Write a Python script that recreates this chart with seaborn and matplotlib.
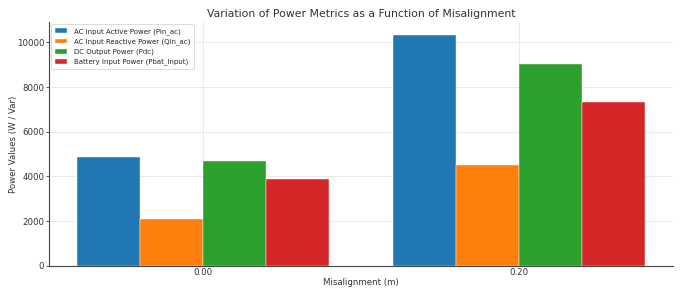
import numpy as np
import pandas as pd
import matplotlib
matplotlib.use("Agg")
import matplotlib.pyplot as plt
import seaborn as sns

misalignment = ["0.00", "0.20"]
series_names = [
    "AC Input Active Power (Pin_ac)",
    "AC Input Reactive Power (Qin_ac)",
    "DC Output Power (Pdc)",
    "Battery Input Power (Pbat_input)",
]
pin_ac = [4880, 10330]
qin_ac = [2100, 4520]
pdc = [4690, 9030]
pbat_input = [3900, 7320]
colors = ["#1f77b4", "#ff7f0e", "#2ca02c", "#d62728"]

rows = []
for name, vals in zip(series_names, [pin_ac, qin_ac, pdc, pbat_input]):
    for m, v in zip(misalignment, vals):
        rows.append({"Misalignment": m, "Metric": name, "Value": v})
df = pd.DataFrame(rows)

sns.set_theme(style="whitegrid")
plt.rcParams["font.family"] = ["DejaVu Sans"]

fig, ax = plt.subplots(figsize=(6.81, 2.97), dpi=100)
sns.barplot(data=df, x="Misalignment", y="Value", hue="Metric",
            hue_order=series_names, order=misalignment, palette=colors,
            saturation=1, width=0.8, ax=ax, linewidth=0.3, edgecolor="white")

ax.set_xlim(-0.487, 1.487)
ax.set_ylim(0, 10900)
ax.set_title("Variation of Power Metrics as a Function of Misalignment", fontsize=7.8, color="#333333", pad=4)
ax.set_xlabel("Misalignment (m)", fontsize=6.2, color="#333333", labelpad=0.5)
ax.set_ylabel("Power Values (W / Var)", fontsize=6.2, color="#333333", labelpad=-1)
ax.tick_params(axis="both", labelsize=6.2, colors="#333333", width=0.6)
ax.tick_params(axis="x", length=0, pad=1.8)
ax.tick_params(axis="y", length=2, pad=1.5, left=True)
ax.grid(True, color="#e6e6e6", linewidth=0.6)
for s in ["top", "right"]:
    ax.spines[s].set_visible(False)
for s in ["left", "bottom"]:
    ax.spines[s].set_color("#444444")
    ax.spines[s].set_linewidth(0.8)

leg = ax.legend(loc="upper left", fontsize=5.0, frameon=True, handlelength=1.8,
                borderpad=0.55, labelspacing=0.5, handletextpad=0.9, title=None,
                borderaxespad=0.3)
leg.get_frame().set_edgecolor("#cccccc")
leg.get_frame().set_linewidth(0.6)

fig.subplots_adjust(left=0.072, right=0.988, top=0.925, bottom=0.105)
fig.savefig("out.png", dpi=100)
